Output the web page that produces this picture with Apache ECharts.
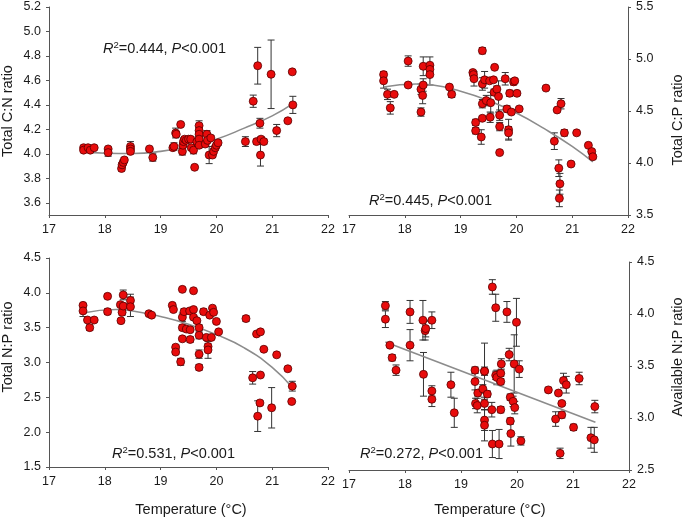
<!DOCTYPE html>
<html>
<head>
<meta charset="utf-8">
<script src="https://cdn.jsdelivr.net/npm/echarts@6/dist/echarts.min.js"></script>
<style>html,body{margin:0;padding:0;background:#fff}#c{width:685px;height:521px}</style>
</head>
<body>
<div id="c"></div>
<script>
// ---- Panel 1: Total C:N ratio ----
var cnX = [17.62,17.62,17.70,17.74,17.81,18.06,18.06,18.30,18.31,18.33,18.35,18.46,18.46,18.46,18.80,18.86,19.22,19.24,19.27,19.28,19.36,19.39,19.40,19.41,19.43,19.46,19.50,19.54,19.55,19.59,19.61,19.65,19.69,19.69,19.69,19.69,19.69,19.80,19.83,19.84,19.87,19.90,19.93,19.95,19.98,20.00,20.03,20.52,20.66,20.72,20.74,20.78,20.80,20.79,20.85,20.98,21.08,21.28,21.36,21.37];
var cnY = [4.05,4.03,4.05,4.03,4.05,4.04,4.01,3.88,3.91,3.93,3.95,4.06,4.04,4.02,4.04,3.97,4.05,4.06,4.17,4.16,4.24,4.02,4.07,4.10,4.12,4.11,4.12,4.12,4.05,4.03,3.89,4.10,4.23,4.19,4.16,4.12,4.07,4.08,4.16,4.11,3.99,4.13,3.99,4.02,4.05,4.07,4.09,4.10,4.43,4.10,4.72,4.25,4.12,3.99,4.10,4.65,4.19,4.27,4.67,4.40];
var cnE = [0.01,0.01,0.01,0.01,0.01,0.01,0.03,0.02,0.02,0.02,0.02,0.04,0.02,0.02,0.01,0.03,0.02,0.03,0.04,0.02,0.01,0.03,0.02,0.03,0.02,0.02,0.02,0.02,0.02,0.03,0.01,0.02,0.04,0.02,0.02,0.02,0.02,0.02,0.03,0.02,0.07,0.02,0.02,0.02,0.02,0.02,0.02,0.04,0.05,0.02,0.15,0.04,0.02,0.09,0.02,0.28,0.05,0.01,0.01,0.07];
var cnFitX = [17.62,18.0,18.5,19.0,19.5,20.0,20.5,21.0,21.37];
var cnFitY = [4.02,4.005,4.003,4.02,4.06,4.12,4.21,4.31,4.41];
var cnTicks = [3.6,3.8,4.0,4.2,4.4,4.6,4.8,5.0,5.2];

// ---- Panel 2: Total C:P ratio ----
var cpX = [17.62,17.62,17.69,17.74,17.81,18.06,18.06,18.29,18.29,18.32,18.33,18.33,18.45,18.45,18.45,18.80,18.84,19.22,19.23,19.24,19.27,19.27,19.37,19.39,19.39,19.39,19.39,19.43,19.46,19.52,19.54,19.53,19.61,19.59,19.60,19.65,19.68,19.70,19.70,19.70,19.80,19.83,19.86,19.86,19.88,19.91,19.95,19.97,20.01,20.05,20.53,20.68,20.73,20.76,20.78,20.77,20.80,20.86,20.98,21.08,21.29,21.35,21.37];
var cpY = [4.85,4.79,4.66,4.53,4.66,4.98,4.75,4.71,4.49,4.65,4.93,4.75,4.94,4.90,4.85,4.73,4.66,4.87,4.85,4.81,4.39,4.31,4.25,5.08,4.76,4.57,4.43,4.80,4.60,4.79,4.58,4.44,4.92,4.80,4.68,4.71,4.64,4.46,4.35,4.10,4.81,4.52,4.32,4.29,4.67,4.49,4.78,4.79,4.67,4.52,4.72,4.21,4.51,3.95,3.80,3.66,4.57,4.29,3.99,4.29,4.17,4.11,4.06];
var cpE = [0.03,0.07,0.05,0.06,0.01,0.05,0.01,0.05,0.04,0.08,0.09,0.06,0.08,0.03,0.10,0.02,0.03,0.02,0.02,0.07,0.03,0.03,0.07,0.03,0.06,0.04,0.02,0.08,0.05,0.02,0.10,0.05,0.01,0.02,0.03,0.03,0.15,0.05,0.04,0.01,0.06,0.03,0.10,0.06,0.03,0.02,0.03,0.02,0.02,0.01,0.01,0.08,0.01,0.08,0.10,0.08,0.05,0.03,0.01,0.01,0.01,0.02,0.02];
var cpFitX = [17.62,18.2,18.5,19.0,19.5,20.0,20.5,21.0,21.37];
var cpFitY = [4.73,4.76,4.75,4.69,4.60,4.48,4.33,4.16,4.01];

// ---- Panel 3: Total N:P ratio ----
var npX = [17.61,17.61,17.69,17.73,17.81,18.05,18.05,18.28,18.29,18.31,18.33,18.33,18.46,18.46,18.79,18.84,19.21,19.23,19.27,19.27,19.36,19.39,19.39,19.39,19.39,19.42,19.46,19.52,19.53,19.53,19.59,19.59,19.59,19.65,19.69,19.69,19.69,19.69,19.77,19.82,19.85,19.85,19.88,19.91,19.93,19.95,20.00,20.04,20.53,20.65,20.72,20.74,20.78,20.79,20.79,20.85,20.99,21.08,21.28,21.36,21.35];
var npY = [3.82,3.74,3.61,3.50,3.61,3.95,3.73,3.83,3.60,3.72,3.97,3.81,3.89,3.80,3.70,3.68,3.82,3.76,3.22,3.15,3.01,4.05,3.65,3.50,3.34,3.73,3.48,3.74,3.47,3.33,4.03,3.76,3.65,3.60,3.50,3.39,3.12,2.93,3.73,3.36,3.23,3.18,3.68,3.36,3.78,3.72,3.59,3.44,3.63,2.78,3.41,2.23,2.42,2.82,3.44,3.19,2.35,3.11,2.91,2.66,2.44];
var npE = [0.02,0.08,0.02,0.04,0.01,0.03,0.04,0.02,0.03,0.04,0.07,0.04,0.09,0.14,0.01,0.01,0.02,0.02,0.03,0.03,0.05,0.01,0.06,0.04,0.02,0.04,0.02,0.02,0.02,0.04,0.01,0.02,0.02,0.03,0.04,0.05,0.06,0.04,0.04,0.02,0.04,0.12,0.02,0.02,0.02,0.02,0.02,0.02,0.04,0.09,0.02,0.22,0.03,0.02,0.03,0.02,0.29,0.01,0.01,0.07,0.01];
var npFitX = [17.61,18.2,18.5,19.0,19.5,20.0,20.5,21.0,21.36];
var npFitY = [3.71,3.76,3.74,3.66,3.55,3.40,3.21,2.93,2.64];

// ---- Panel 4: Available N:P ratio ----
var anX = [17.65,17.65,17.73,17.77,17.84,18.09,18.09,18.32,18.33,18.36,18.37,18.48,18.48,18.48,18.82,18.88,19.25,19.25,19.26,19.29,19.30,19.39,19.42,19.42,19.42,19.42,19.42,19.47,19.55,19.56,19.56,19.62,19.62,19.64,19.68,19.71,19.72,19.71,19.71,19.82,19.86,19.88,19.88,19.89,19.93,19.95,19.96,19.99,20.04,20.07,20.56,20.69,20.77,20.74,20.80,20.80,20.83,20.88,21.01,21.11,21.32,21.38,21.39];
var anY = [4.08,3.95,3.70,3.58,3.46,4.02,3.70,3.94,3.42,3.84,3.86,3.94,3.26,3.18,3.32,3.05,3.46,3.35,3.14,3.12,3.24,3.28,3.45,3.45,3.14,2.98,2.93,3.23,3.08,4.26,2.75,4.06,3.41,3.39,2.75,3.43,3.52,3.35,3.08,4.02,3.61,3.20,2.97,2.85,3.16,3.52,3.10,3.92,3.47,2.78,3.27,2.99,2.66,3.24,3.03,3.14,3.36,3.32,2.91,3.38,2.81,2.79,3.11];
var anE = [0.04,0.08,0.01,0.03,0.05,0.11,0.15,0.19,0.21,0.09,0.08,0.08,0.05,0.07,0.12,0.14,0.03,0.08,0.05,0.07,0.03,0.04,0.27,0.04,0.06,0.10,0.15,0.03,0.07,0.07,0.13,0.13,0.04,0.07,0.14,0.03,0.05,0.03,0.03,0.10,0.06,0.03,0.03,0.12,0.05,0.28,0.06,0.23,0.08,0.04,0.025,0.07,0.05,0.02,0.03,0.02,0.07,0.08,0.03,0.06,0.10,0.12,0.06];
var anFitX = [17.65,21.40];
var anFitY = [3.73,2.96];

var FONT = "'Liberation Sans', Arial, sans-serif";
var AXC = '#555555';
var TXT = '#1a1a1a';

function zip3(a,b,c){return a.map(function(v,i){return [v,b[i],c[i]];});}
function zip2(a,b){return a.map(function(v,i){return [v,b[i]];});}

function xAx(gi){
  return {gridIndex:gi,type:'value',min:17,max:22,interval:1,
    axisLine:{show:true,lineStyle:{color:AXC,width:1}},
    axisTick:{show:true,length:3,lineStyle:{color:AXC}},
    axisLabel:{color:TXT,fontSize:12.5,fontFamily:FONT,margin:8},
    splitLine:{show:false}};
}
function yAx(gi,min,max,interval,pos){
  return {gridIndex:gi,type:'value',min:min,max:max,interval:interval,position:pos,
    axisLine:{show:true,onZero:false,lineStyle:{color:AXC,width:1}},
    axisTick:{show:true,length:3,lineStyle:{color:AXC}},
    axisLabel:{color:TXT,fontSize:12.5,fontFamily:FONT,margin:8,formatter:function(v){return v.toFixed(1);}},
    splitLine:{show:false}};
}
var y0 = yAx(0,3.5,5.2,0.1,'left');
y0.axisLabel.customValues = cnTicks;
y0.axisTick.customValues = cnTicks;

function errSeries(gi,data){
  return {type:'custom',xAxisIndex:gi,yAxisIndex:gi,z:2,data:data,silent:true,
    renderItem:function(params,api){
      var x=api.value(0),y=api.value(1),e=api.value(2);
      var t=api.coord([x,y+e]),b=api.coord([x,y-e]);
      var w=3.5;
      var st={stroke:'#333333',lineWidth:1};
      return {type:'group',children:[
        {type:'line',shape:{x1:t[0],y1:t[1],x2:b[0],y2:b[1]},style:st},
        {type:'line',shape:{x1:t[0]-w,y1:t[1],x2:t[0]+w,y2:t[1]},style:st},
        {type:'line',shape:{x1:b[0]-w,y1:b[1],x2:b[0]+w,y2:b[1]},style:st}
      ]};
    }};
}
function ptSeries(gi,data){
  return {type:'scatter',xAxisIndex:gi,yAxisIndex:gi,z:4,data:data,symbol:'circle',symbolSize:8,
    itemStyle:{color:'#e80c0c',borderColor:'#5a0000',borderWidth:0.8,opacity:1},silent:true};
}
function fitSeries(gi,data){
  return {type:'line',xAxisIndex:gi,yAxisIndex:gi,z:3,data:data,smooth:true,showSymbol:false,symbol:'none',
    lineStyle:{color:'#8c8c8c',width:1.6},silent:true};
}

var rich = {
  i:{fontStyle:'italic',fontSize:14.5,fontFamily:FONT,fill:TXT,lineHeight:18},
  n:{fontSize:14.5,fontFamily:FONT,fill:TXT,lineHeight:18},
  s:{fontSize:9.5,fontFamily:FONT,fill:TXT,lineHeight:10,verticalAlign:'top'}
};
function statText(x,y,r2){
  return {type:'text',x:x,y:y,style:{text:'{i|R}{s|2}{n|='+r2+', }{i|P}{n|<0.001}',rich:rich,textAlign:'left',textVerticalAlign:'middle',fill:TXT}};
}
function yName(x,y,t){
  return {type:'text',x:x,y:y,rotation:Math.PI/2,style:{text:t,font:'14.5px '+FONT,fill:TXT,textAlign:'center',textVerticalAlign:'middle'}};
}
function xName(x,y){
  return {type:'text',x:x,y:y,style:{text:'Temperature (°C)',font:'14.5px '+FONT,fill:TXT,textAlign:'center',textVerticalAlign:'middle'}};
}

var chart = echarts.init(document.getElementById('c'),null,{renderer:'canvas'});
chart.setOption({
  backgroundColor:'#ffffff',
  animation:false,
  grid:[
    {left:49,top:7,width:279,height:208},
    {left:349,top:7,width:279,height:208},
    {left:49,top:258,width:279,height:209},
    {left:349,top:262,width:280,height:208}
  ],
  xAxis:[xAx(0),xAx(1),xAx(2),xAx(3)],
  yAxis:[y0,yAx(1,3.5,5.5,0.5,'right'),yAx(2,1.5,4.5,0.5,'left'),yAx(3,2.5,4.5,0.5,'right')],
  series:[
    fitSeries(0,zip2(cnFitX,cnFitY)),errSeries(0,zip3(cnX,cnY,cnE)),ptSeries(0,zip2(cnX,cnY)),
    fitSeries(1,zip2(cpFitX,cpFitY)),errSeries(1,zip3(cpX,cpY,cpE)),ptSeries(1,zip2(cpX,cpY)),
    fitSeries(2,zip2(npFitX,npFitY)),errSeries(2,zip3(npX,npY,npE)),ptSeries(2,zip2(npX,npY)),
    fitSeries(3,zip2(anFitX,anFitY)),errSeries(3,zip3(anX,anY,anE)),ptSeries(3,zip2(anX,anY))
  ],
  graphic:[
    statText(103,49,'0.444'),
    statText(369,201,'0.445'),
    statText(112,454,'0.531'),
    statText(360,454,'0.272'),
    yName(8,111,'Total C:N ratio'),
    yName(678,120,'Total C:P ratio'),
    yName(8,347,'Total N:P ratio'),
    yName(678,357,'Available N:P ratio'),
    xName(191,510),
    xName(490,510)
  ]
});
</script>
</body>
</html>
